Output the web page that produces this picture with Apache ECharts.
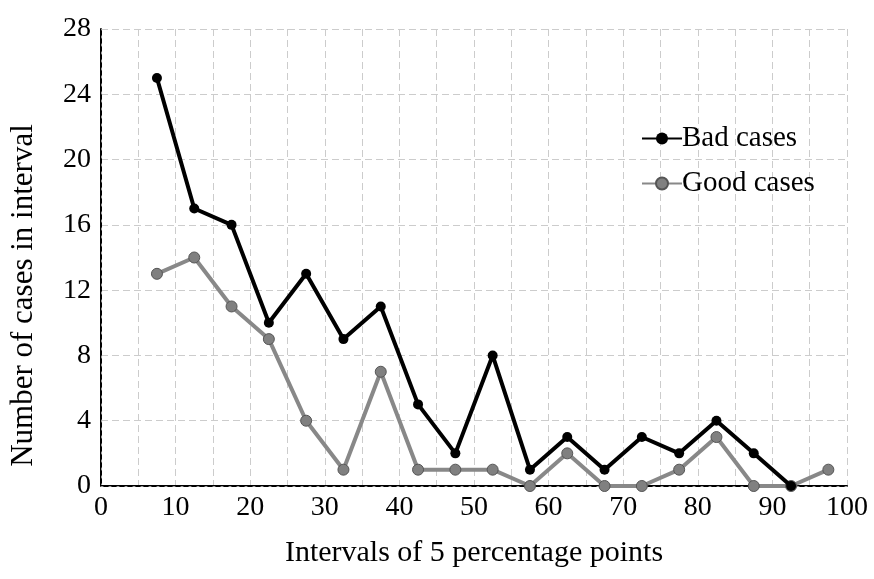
<!DOCTYPE html>
<html><head><meta charset="utf-8">
<script src="https://cdn.jsdelivr.net/npm/echarts@6/dist/echarts.min.js"></script>
<style>html,body{margin:0;padding:0;background:#fff}#c{width:874px;height:579px}</style>
</head><body><div id="c"></div>
<script>
const xPositions = [7.5,12.5,17.5,22.5,27.5,32.5,37.5,42.5,47.5,52.5,57.5,62.5,67.5,72.5,77.5,82.5,87.5,92.5,97.5];
const badCases  = [25,17,16,10,13,9,11,5,2,8,1,3,1,3,2,4,2,0,null];
const goodCases = [13,14,11,9,4,1,7,1,1,1,0,2,0,0,1,3,0,0,1];
const seriesNames = ['Bad cases','Good cases'];
const xTitle = 'Intervals of 5 percentage points';
const yTitle = 'Number of cases in interval';

const font = 'Liberation Serif, Times New Roman, serif';
const chart = echarts.init(document.getElementById('c'));
chart.setOption({
  animation:false,
  backgroundColor:'#fff',
  grid:{left:100,right:27,top:29,bottom:93,containLabel:false},
  legend:{
    data:seriesNames, orient:'vertical', left:636, top:119, itemGap:16,
    itemWidth:40, itemHeight:15,
    textStyle:{fontFamily:font,fontSize:29,color:'#000',padding:[0,0,0,-5]}
  },
  xAxis:[{
    type:'value', min:0, max:100, interval:10,
    name:xTitle, nameLocation:'middle', nameGap:52,
    nameTextStyle:{fontFamily:font,fontSize:30,color:'#000'},
    axisLine:{show:true,onZero:false,lineStyle:{color:'#000',width:2}},
    axisTick:{show:false},
    axisLabel:{fontFamily:font,fontSize:28,color:'#000',margin:8},
    splitLine:{show:false}
  },{
    type:'value', min:0, max:100, interval:5, position:'top',
    axisLine:{show:true,lineStyle:{color:'#999',width:1,type:[2,6]}},
    axisTick:{show:false}, axisLabel:{show:false},
    splitLine:{show:true,lineStyle:{color:'#ccc',width:1,type:[7,4]}}
  }],
  yAxis:[{
    type:'value', min:0, max:28, interval:4,
    name:yTitle, nameLocation:'middle', nameGap:62,
    nameTextStyle:{fontFamily:font,fontSize:31,color:'#000',padding:[0,76,0,0]},
    axisLine:{show:true,onZero:false,lineStyle:{color:'#000',width:2}},
    axisTick:{show:false},
    axisLabel:{fontFamily:font,fontSize:28,color:'#000',margin:10},
    splitLine:{show:true,lineStyle:{color:'#ccc',width:1,type:[7,4]}}
  },{
    type:'value', min:0, max:28, interval:4, position:'right',
    axisLine:{show:true,lineStyle:{color:'#999',width:1,type:[2,6]}},
    axisTick:{show:false}, axisLabel:{show:false}, splitLine:{show:false}
  }],
  series:[{
    name:seriesNames[0], type:'line', xAxisIndex:0, yAxisIndex:0,
    data:xPositions.map((x,i)=>[x,badCases[i]]).filter(d=>d[1]!==null),
    symbol:'circle', symbolSize:10,
    lineStyle:{color:'#000',width:4},
    itemStyle:{color:'#000'}, z:3
  },{
    name:seriesNames[1], type:'line', xAxisIndex:0, yAxisIndex:0,
    data:xPositions.map((x,i)=>[x,goodCases[i]]),
    symbol:'circle', symbolSize:11,
    lineStyle:{color:'#888',width:4},
    itemStyle:{color:'#808080',borderColor:'#555',borderWidth:1}, z:2
  }]
});
</script></body></html>
